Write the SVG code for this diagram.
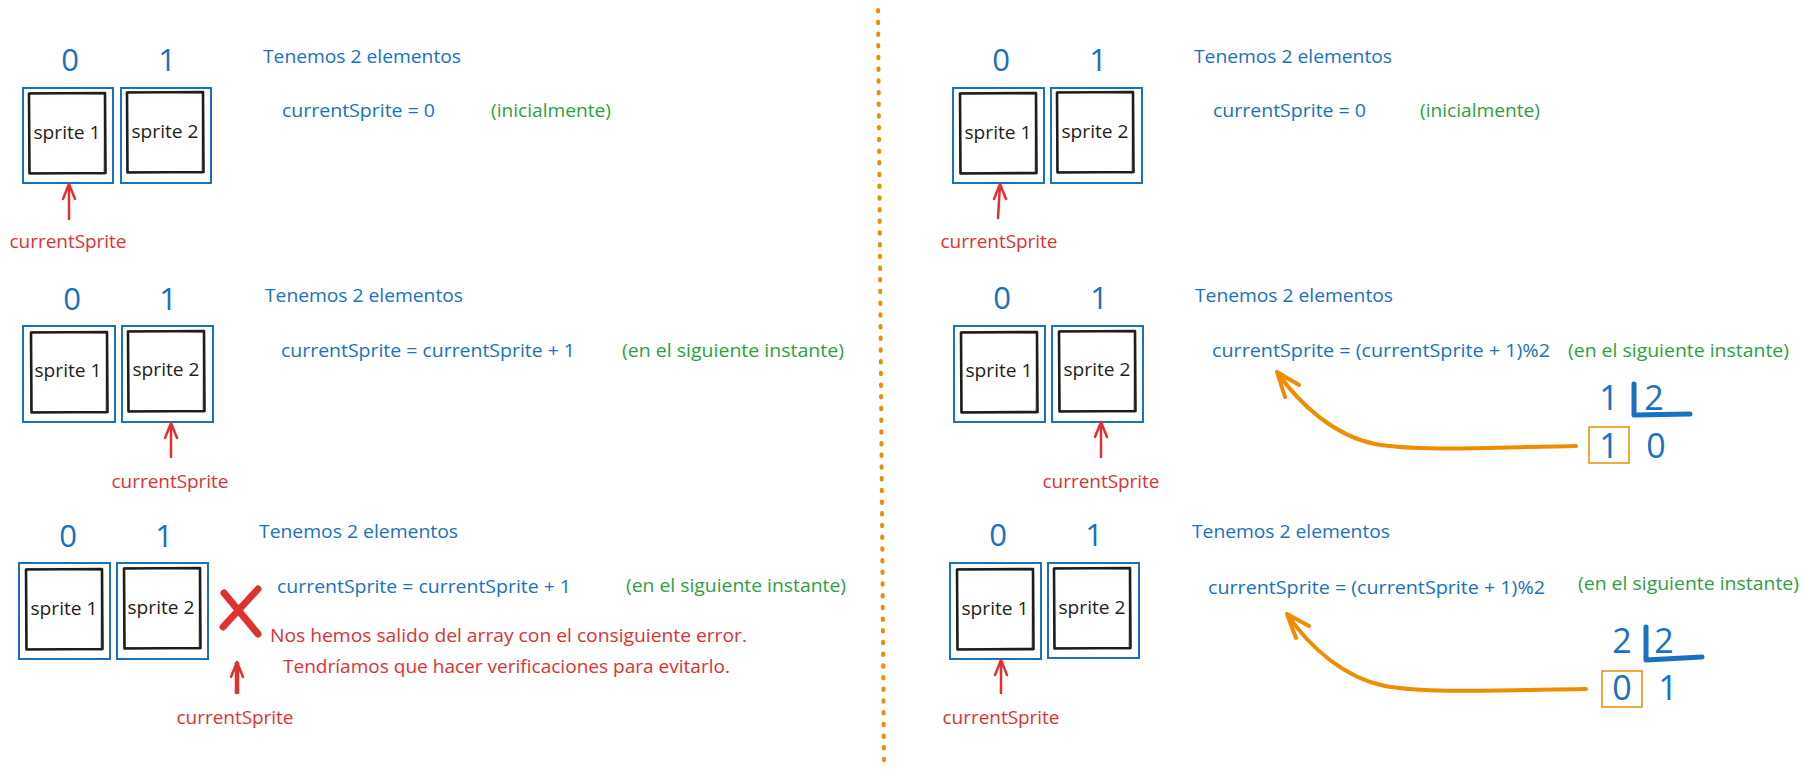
<svg xmlns="http://www.w3.org/2000/svg" width="1807" height="777" viewBox="0 0 1807 777">
<style>
text{font-family:'Open Sans','Noto Sans',sans-serif;font-size:19px}
.b{fill:#1971c2}.r{fill:#e03131}.g{fill:#2f9e44}.k{fill:#1e1e1e}
.d{font-size:31px;text-anchor:middle;fill:#1971c2}
.dv{font-size:34px;text-anchor:middle;fill:#1971c2}
.m{text-anchor:middle}
.box{fill:none;stroke:#1971c2;stroke-width:2}
.sk{fill:none;stroke:#1e1e1e;stroke-width:2.6;stroke-linejoin:round;stroke-linecap:round}
.sk2{fill:none;stroke:#1e1e1e;stroke-width:1;opacity:.55;stroke-linecap:round}
.ar{fill:none;stroke:#e03131;stroke-width:2.5;stroke-linecap:round;stroke-linejoin:round}
.or{fill:none;stroke:#f08c00;stroke-width:4;stroke-linecap:round;stroke-linejoin:round}
.obox{fill:none;stroke:#f08c00;stroke-width:1.5}
.br{fill:none;stroke:#1971c2;stroke-width:5;stroke-linecap:round;stroke-linejoin:round}
</style>
<defs>
<g id="skbox">
<path class="sk" d="M0,0.5 L76,0 L76.5,80 L0.5,80.5 Z"/>
<path class="sk2" d="M1,-0.5 L75,1 M75.5,1 L75,79 M76,81 L1,79.5 M-0.5,1 L0,79"/>
</g>
</defs>

<g id="divider"><path d="M878,10 L884,763" fill="none" stroke="#f08c00" stroke-width="4" stroke-linecap="round" stroke-dasharray="1.5 10.2"/></g>

<!-- Panel 1 -->
<g id="p1-idx0"><text class="d" x="70" y="71">0</text></g>
<g id="p1-idx1"><text class="d" x="167" y="71">1</text></g>
<g id="p1-s1"><rect class="box" x="23" y="88" width="90" height="95"/><use href="#skbox" x="29" y="93"/><text class="k m" x="67" y="139" textLength="67" lengthAdjust="spacingAndGlyphs">sprite 1</text></g>
<g id="p1-s2"><rect class="box" x="121" y="88" width="90" height="95"/><use href="#skbox" x="127" y="92"/><text class="k m" x="165" y="138" textLength="67" lengthAdjust="spacingAndGlyphs">sprite 2</text></g>
<g id="p1-t1"><text class="b" x="263" y="63" textLength="198" lengthAdjust="spacingAndGlyphs">Tenemos 2 elementos</text></g>
<g id="p1-t2"><text class="b" x="282" y="117" textLength="153" lengthAdjust="spacingAndGlyphs">currentSprite = 0</text></g>
<g id="p1-t3"><text class="g" x="491" y="117" textLength="120" lengthAdjust="spacingAndGlyphs">(inicialmente)</text></g>
<g id="p1-ptr"><text class="r m" x="68" y="248" textLength="117" lengthAdjust="spacingAndGlyphs">currentSprite</text></g>

<!-- Panel 2 -->
<g id="p2-idx0"><text class="d" x="72" y="310">0</text></g>
<g id="p2-idx1"><text class="d" x="168" y="310">1</text></g>
<g id="p2-s1"><rect class="box" x="23" y="326" width="92" height="96"/><use href="#skbox" x="31" y="332"/><text class="k m" x="68" y="377" textLength="67" lengthAdjust="spacingAndGlyphs">sprite 1</text></g>
<g id="p2-s2"><rect class="box" x="122" y="326" width="91" height="96"/><use href="#skbox" x="128" y="331"/><text class="k m" x="166" y="376" textLength="67" lengthAdjust="spacingAndGlyphs">sprite 2</text></g>
<g id="p2-t1"><text class="b" x="265" y="302" textLength="198" lengthAdjust="spacingAndGlyphs">Tenemos 2 elementos</text></g>
<g id="p2-t2"><text class="b" x="281" y="357" textLength="294" lengthAdjust="spacingAndGlyphs">currentSprite = currentSprite + 1</text></g>
<g id="p2-t3"><text class="g" x="622" y="357" textLength="222" lengthAdjust="spacingAndGlyphs">(en el siguiente instante)</text></g>
<g id="p2-ptr"><text class="r m" x="170" y="488" textLength="117" lengthAdjust="spacingAndGlyphs">currentSprite</text></g>

<!-- Panel 3 -->
<g id="p3-idx0"><text class="d" x="68" y="547">0</text></g>
<g id="p3-idx1"><text class="d" x="164" y="547">1</text></g>
<g id="p3-s1"><rect class="box" x="19" y="563" width="91" height="96"/><use href="#skbox" x="26" y="569"/><text class="k m" x="64" y="615" textLength="67" lengthAdjust="spacingAndGlyphs">sprite 1</text></g>
<g id="p3-s2"><rect class="box" x="117" y="563" width="91" height="96"/><use href="#skbox" x="124" y="568"/><text class="k m" x="161" y="614" textLength="67" lengthAdjust="spacingAndGlyphs">sprite 2</text></g>
<g id="p3-x"><path d="M224,593 L258,634 M258,589 L223,627" fill="none" stroke="#e03131" stroke-width="7" stroke-linecap="round"/></g>
<g id="p3-t1"><text class="b" x="259" y="538" textLength="199" lengthAdjust="spacingAndGlyphs">Tenemos 2 elementos</text></g>
<g id="p3-t2"><text class="b" x="277" y="593" textLength="294" lengthAdjust="spacingAndGlyphs">currentSprite = currentSprite + 1</text></g>
<g id="p3-t3"><text class="g" x="626" y="592" textLength="220" lengthAdjust="spacingAndGlyphs">(en el siguiente instante)</text></g>
<g id="p3-err1"><text class="r" x="270" y="642" textLength="477" lengthAdjust="spacingAndGlyphs">Nos hemos salido del array con el consiguiente error.</text></g>
<g id="p3-err2"><text class="r" x="283" y="673" textLength="447" lengthAdjust="spacingAndGlyphs">Tendríamos que hacer verificaciones para evitarlo.</text></g>
<g id="p3-ptr"><text class="r m" x="235" y="724" textLength="117" lengthAdjust="spacingAndGlyphs">currentSprite</text></g>

<!-- Panel 4 -->
<g id="p4-idx0"><text class="d" x="1001" y="71">0</text></g>
<g id="p4-idx1"><text class="d" x="1098" y="71">1</text></g>
<g id="p4-s1"><rect class="box" x="953" y="88" width="91" height="95"/><use href="#skbox" x="960" y="93"/><text class="k m" x="998" y="139" textLength="67" lengthAdjust="spacingAndGlyphs">sprite 1</text></g>
<g id="p4-s2"><rect class="box" x="1051" y="88" width="91" height="95"/><use href="#skbox" x="1057" y="92"/><text class="k m" x="1095" y="138" textLength="67" lengthAdjust="spacingAndGlyphs">sprite 2</text></g>
<g id="p4-t1"><text class="b" x="1194" y="63" textLength="198" lengthAdjust="spacingAndGlyphs">Tenemos 2 elementos</text></g>
<g id="p4-t2"><text class="b" x="1213" y="117" textLength="153" lengthAdjust="spacingAndGlyphs">currentSprite = 0</text></g>
<g id="p4-t3"><text class="g" x="1420" y="117" textLength="120" lengthAdjust="spacingAndGlyphs">(inicialmente)</text></g>
<g id="p4-ptr"><text class="r m" x="999" y="248" textLength="117" lengthAdjust="spacingAndGlyphs">currentSprite</text></g>

<!-- Panel 5 -->
<g id="p5-idx0"><text class="d" x="1002" y="309">0</text></g>
<g id="p5-idx1"><text class="d" x="1099" y="309">1</text></g>
<g id="p5-s1"><rect class="box" x="954" y="326" width="91" height="96"/><use href="#skbox" x="961" y="332"/><text class="k m" x="999" y="377" textLength="67" lengthAdjust="spacingAndGlyphs">sprite 1</text></g>
<g id="p5-s2"><rect class="box" x="1052" y="326" width="91" height="96"/><use href="#skbox" x="1059" y="331"/><text class="k m" x="1097" y="376" textLength="67" lengthAdjust="spacingAndGlyphs">sprite 2</text></g>
<g id="p5-t1"><text class="b" x="1195" y="302" textLength="198" lengthAdjust="spacingAndGlyphs">Tenemos 2 elementos</text></g>
<g id="p5-t2"><text class="b" x="1212" y="357" textLength="338" lengthAdjust="spacingAndGlyphs">currentSprite = (currentSprite + 1)%2</text></g>
<g id="p5-t3"><text class="g" x="1568" y="357" textLength="221" lengthAdjust="spacingAndGlyphs">(en el siguiente instante)</text></g>
<g id="p5-ptr"><text class="r m" x="1101" y="488" textLength="117" lengthAdjust="spacingAndGlyphs">currentSprite</text></g>
<g id="p5-div">
<text class="dv" x="1609" y="410">1</text><text class="dv" x="1654" y="410">2</text>
<path class="br" d="M1634,384 L1634,415 L1690,414"/>
<rect class="obox" x="1589" y="427" width="40" height="36"/>
<text class="dv" x="1609" y="458">1</text><text class="dv" x="1656" y="458">0</text>
</g>

<!-- Panel 6 -->
<g id="p6-idx0"><text class="d" x="998" y="546">0</text></g>
<g id="p6-idx1"><text class="d" x="1094" y="546">1</text></g>
<g id="p6-s1"><rect class="box" x="950" y="563" width="91" height="96"/><use href="#skbox" x="957" y="569"/><text class="k m" x="995" y="615" textLength="67" lengthAdjust="spacingAndGlyphs">sprite 1</text></g>
<g id="p6-s2"><rect class="box" x="1048" y="563" width="91" height="95"/><use href="#skbox" x="1054" y="568"/><text class="k m" x="1092" y="614" textLength="67" lengthAdjust="spacingAndGlyphs">sprite 2</text></g>
<g id="p6-t1"><text class="b" x="1192" y="538" textLength="198" lengthAdjust="spacingAndGlyphs">Tenemos 2 elementos</text></g>
<g id="p6-t2"><text class="b" x="1208" y="594" textLength="337" lengthAdjust="spacingAndGlyphs">currentSprite = (currentSprite + 1)%2</text></g>
<g id="p6-t3"><text class="g" x="1578" y="590" textLength="221" lengthAdjust="spacingAndGlyphs">(en el siguiente instante)</text></g>
<g id="p6-ptr"><text class="r m" x="1001" y="724" textLength="117" lengthAdjust="spacingAndGlyphs">currentSprite</text></g>
<g id="p6-div">
<text class="dv" x="1622" y="653">2</text><text class="dv" x="1664" y="653">2</text>
<path class="br" d="M1646,627 L1646,660 L1702,657"/>
<rect class="obox" x="1602" y="671" width="40" height="36"/>
<text class="dv" x="1622" y="700">0</text><text class="dv" x="1668" y="700">1</text>
</g>

<g id="connectors">
<path class="ar" d="M69,219 L69,185 M63,199 L69,184 L75,199"/>
<path class="ar" d="M171,457 L171,424 M165,438 L171,423 L177,438"/>
<path class="ar" d="M236,693 L236,663 M238,693 L238,663 M231,677 L237,662 L243,677"/>
<path class="ar" d="M998,218 L1000,185 M994,199 L1000,184 L1006,199"/>
<path class="ar" d="M1101,457 L1101,423 M1095,437 L1101,422 L1107,437"/>
<path class="ar" d="M1001,693 L1001,661 M995,675 L1001,660 L1007,675"/>
<path class="or" d="M1576,446 C1500,447 1420,452 1375,444 C1335,436 1300,405 1277,372 M1299,385 L1277,372 L1285,397"/>
<path class="or" d="M1586,689 C1500,690 1430,694 1385,686 C1345,678 1310,648 1287,614 M1309,626 L1287,614 L1296,638"/>
</g>
</svg>
